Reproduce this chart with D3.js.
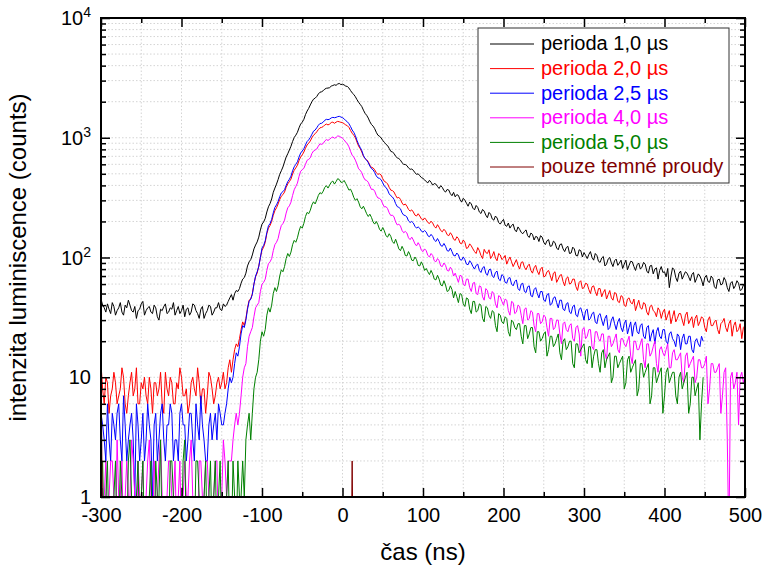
<!DOCTYPE html>
<html><head><meta charset="utf-8">
<script src="https://cdn.jsdelivr.net/npm/d3@7"></script>
<style>body{margin:0;background:#fff}svg{display:block;font-family:"Liberation Sans",Arial,sans-serif}</style>
</head><body><svg id="c" width="768" height="569"></svg>
<script>
// sampling grid of the measurement (ns)
const timeNs = d3.range(-300, 501, 2);

// perioda 1,0 µs
const period10 = [45,40,38,35,41,37,34,42,39,33,36,38,42,35,33,40,38,44,40,36,35,39,31,36,37,41,43,33,36,38,39,35,34,40,38,32,30,37,36,39,41,34,35,38,37,42,33,36,39,34,36,40,32,37,38,33,35,41,40,36,34,31,37,39,31,34,36,40,39,33,35,38,38,42,37,36,41,39,40,43,
46,49,44,50,53,52,55,61,66,68,74,85,92,96,105,118,127,135,148,170,190,198,212,240,265,282,308,350,380,410,448,495,530,570,628,690,735,790,850,930,1005,1050,1110,1210,1300,1350,1425,1560,1670,1760,1880,2000,2100,2140,2210,2320,2400,2420,2470,2550,2590,2600,2620,2700,2730,2770,2740,2810,2840,2780,
2800,2760,2700,2680,2600,2480,2370,2300,2200,2080,1980,1900,1820,1700,1600,1540,1460,1360,1290,1250,1190,1110,1050,1030,995,950,915,880,860,815,770,760,740,700,680,670,650,618,600,598,585,560,545,548,535,510,495,500,482,465,
458,445,430,420,441,425,402,415,410,392,377,398,385,362,352,370,366,341,328,350,321,335,330,305,290,312,301,284,268,290,280,258,250,272,262,240,233,252,244,226,215,238,230,210,205,222,214,196,190,200,208,186,182,194,176,185,190,170,164,180,172,162,158,165,170,152,147,160,156,140,150,148,136,152,148,134,128,138,141,124,125,137,133,120,116,128,130,118,112,121,124,108,109,122,118,104,103,116,114,101,
110,104,98,106,112,100,95,108,104,93,91,99,102,85,88,97,100,90,84,94,97,86,90,95,81,88,95,79,86,93,92,84,78,87,90,80,83,91,88,77,74,85,86,73,80,82,66,78,84,75,76,69,81,56,70,82,79,68,63,74,77,66,71,76,74,69,64,72,75,62,67,73,70,65,58,68,71,63,62,70,67,57,55,65,66,59,60,68,64,56,52,61,63,55,58,64,61,53,54,59,
60];

// perioda 2,0 µs
const period20 = [13,8,6,10,9,5,7,8,11,9,6,7,8,12,10,6,5,7,9,11,7,8,12,6,6,9,8,10,7,6,10,8,5,9,9,7,8,11,6,5,11,8,7,10,9,6,6,9,8,12,10,7,7,8,5,6,9,10,8,7,12,9,6,8,8,5,7,11,10,8,6,7,9,10,8,9,
11,8,9,12,14,11,14,17,19,18,21,25,29,27,31,38,44,45,50,60,69,74,85,100,115,122,134,158,176,185,200,225,246,260,280,305,325,335,352,385,412,430,452,498,535,560,590,645,690,720,760,818,870,900,940,1000,1050,1080,1120,1170,1210,1220,1240,1280,1300,1280,1300,1340,1350,1320,1350,1370,1360,1345,
1340,1310,1280,1260,1220,1150,1090,1050,1000,920,850,810,760,700,670,655,630,590,565,560,540,510,495,500,488,455,432,425,412,385,365,362,352,330,314,318,306,285,274,280,268,252,244,250,240,226,222,232,222,210,205,214,
206,196,192,201,194,182,176,188,179,168,164,172,166,155,152,161,154,142,139,149,144,132,130,140,134,119,121,130,
125,118,112,108,121,114,104,98,117,110,108,116,98,103,112,99,94,108,105,96,
99,104,88,95,101,92,84,90,96,86,80,91,92,83,79,85,88,78,74,82,
86,77,72,80,83,69,70,76,78,71,64,74,76,62,66,71,72,63,58,67,
69,60,61,66,66,57,53,62,64,55,56,61,60,54,50,57,58,52,48,55,
55,47,51,54,45,49,53,46,44,51,50,43,42,48,47,40,39,45,46,42,
41,45,36,40,44,38,37,42,41,35,33,39,40,36,35,32,38,36,31,35,
37,30,33,36,28,32,36,29,31,34,34,30,27,33,35,28,30,32,26,31,
33,27,29,32,31,26,24,30,32,27,27,29,30,25,23,28,29,31,26,24,
28,30,22,27,29,24,25,28,21,26,
27];

// perioda 2,5 µs (ends at 448 ns)
const period25 = [5,4,3,2,6,3,2,5,4,3,5,6,3,2,7,4,2,3,4,5,3,1,6,4,2,3,5,2,3,6,4,3,1,4,5,2,3,5,6,3,2,4,4,6,5,2,3,3,2,5,6,4,4,2,3,5,5,3,2,6,4,3,7,4,3,2,2,4,5,3,4,5,3,6,5,4,
4,5,6,8,10,9,10,13,16,15,18,23,27,26,30,37,43,45,49,60,70,76,84,100,120,126,138,162,184,192,208,236,262,275,294,322,346,355,368,400,430,450,478,530,572,600,630,690,745,775,810,870,930,960,1005,1070,1135,1160,1210,1270,1315,1320,1350,1400,1425,1415,1430,1465,1480,1470,1480,1500,1510,1490,
1470,1440,1390,1360,1310,1240,1160,1110,1040,950,880,830,780,710,670,650,620,580,552,540,512,480,462,458,446,420,394,385,366,340,328,320,306,282,266,262,255,236,226,224,218,202,196,200,194,182,176,180,175,166,163,168,
163,152,149,156,150,140,136,144,136,126,124,131,124,114,113,120,112,104,103,109,105,96,95,101,96,88,87,94,
90,84,80,86,88,78,75,82,84,74,71,79,80,70,68,75,77,66,64,72,
70,62,61,67,68,60,58,63,65,55,53,60,61,52,51,57,58,48,47,54,
56,50,46,52,52,44,43,49,50,40,41,46,47,42,38,44,44,37,36,41,
42,35,34,39,40,33,32,37,38,34,30,36,37,30,31,34,35,29,28,33,
34,30,27,31,33,25,26,30,32,28,25,29,31,26,24,28,30,23,26,29,
22,27,29,24,23,27,28,22,21,26,27,20,23,25,19,24,26,22,21,25,
25,20,19,23,24,21,20,18,23,22,17,21,23,19,19,22,22,17,16,20,
21,19,18,22,
20];

// perioda 4,0 µs
const period40 = [2,1,1,2,0,1,2,2,1,0,3,1,1,2,0,1,2,1,1,3,2,1,0,2,1,1,2,0,1,2,3,1,0,2,1,1,2,3,1,0,0,1,2,2,1,1,2,0,1,2,0,1,2,1,1,2,3,1,1,0,0,2,2,1,1,2,2,1,0,1,1,2,2,0,1,1,3,2,1,2,2,2,
3,4,5,4,5,7,10,12,13,18,22,24,26,32,38,40,42,52,60,62,66,78,89,92,98,114,128,134,144,166,185,192,205,235,260,270,290,330,368,392,418,475,525,540,556,600,648,660,680,740,775,790,805,850,890,880,895,940,965,950,970,1000,1015,990,1005,1035,1030,1010,
990,960,920,890,840,770,715,690,650,600,550,535,510,470,445,440,425,395,370,372,358,330,314,312,302,280,264,266,256,236,224,226,218,198,187,190,183,168,161,165,160,146,141,148,140,130,125,133,126,115,112,118,
114,104,101,108,104,94,92,98,94,85,84,90,86,78,77,83,79,70,
74,68,62,71,70,60,58,66,66,56,52,61,62,50,49,58,57,47,44,55,
53,46,45,52,50,41,38,48,47,43,40,45,44,36,33,43,42,34,35,40,
39,33,28,37,38,30,31,36,35,27,24,34,34,28,29,33,32,26,22,31,
31,25,26,30,30,23,19,28,29,25,24,27,28,21,20,26,27,23,15,25,
26,21,22,25,25,18,17,24,24,21,20,23,23,16,14,22,22,18,19,21,
23,17,16,21,21,19,18,20,22,15,13,20,20,17,17,19,21,14,12,19,
19,15,16,18,20,13,11,17,18,16,15,17,19,12,12,16,17,14,14,15,
16,10,9,15,16,12,13,14,15,9,10,14,14,12,12,13,15,6,8,13,
13,11,11,12,13,5,7,11,12,3,0,10,11,8,9,11,4,10,11,9,
10];

// perioda 5,0 µs (ends at 448 ns)
const period50 = [1,2,0,1,2,0,0,1,1,2,0,0,2,1,1,0,0,2,3,1,0,0,1,2,0,1,2,0,0,1,1,2,0,0,2,1,1,3,0,1,1,0,0,2,2,1,0,0,1,1,0,2,3,0,0,1,1,0,0,2,2,1,0,0,1,2,0,1,2,0,1,2,0,1,2,0,0,1,1,2,0,0,2,1,0,2,1,1,
2,1,3,4,5,3,5,8,10,11,14,20,24,22,25,33,38,35,40,50,56,52,58,70,79,76,84,98,108,102,111,128,139,134,146,166,182,176,193,220,238,232,248,275,292,280,302,330,348,340,358,385,398,380,402,425,435,410,430,455,448,425,
425,440,415,390,365,372,348,318,300,310,290,265,255,268,250,232,220,230,216,198,190,200,188,172,166,178,167,152,148,158,150,136,131,142,130,118,114,124,116,104,103,112,105,95,94,101,96,86,85,92,86,78,
81,76,72,78,73,66,65,71,66,59,58,64,59,52,53,58,54,46,
52,47,42,50,49,41,39,46,45,37,34,43,43,35,36,41,40,31,29,39,
38,33,31,36,35,27,24,34,33,29,28,32,31,24,22,30,29,26,25,28,
28,22,19,27,27,21,23,26,26,18,16,24,24,20,21,23,24,15,17,22,
22,18,19,21,23,16,14,20,21,17,18,20,20,13,12,19,19,16,17,18,
19,14,13,18,18,12,15,17,17,13,11,16,17,12,14,15,16,9,10,15,
15,12,13,14,15,8,9,14,15,11,12,13,14,7,8,13,13,10,11,12,
13,6,7,12,12,9,10,11,12,5,7,11,12,9,10,11,11,7,6,10,
11,8,9,10,11,5,6,10,10,7,8,9,3,6,
10];

// pouze temné proudy (only dark counts: zero except two events)
const darkTimes = [-300,-298,11,12,13,500];
const darkCounts = [15,0,0,2,0,0];

const seriesNames = ["perioda 1,0 µs","perioda 2,0 µs","perioda 2,5 µs","perioda 4,0 µs","perioda 5,0 µs","pouze temné proudy"];
const seriesColors = ["#000000","#ff0000","#0000ff","#ff00ff","#008000","#800000"];

const xMajorTicks = [-300,-200,-100,0,100,200,300,400,500];
const xMinorTicks = [-250,-150,-50,50,150,250,350,450];
const yMajorTicks = [1,10,100,1000,10000];
const yMinorMultipliers = [2,3,4,5,6,7,8,9];

const svg = d3.select("#c");
const L = 101, R = 745, T = 18, B = 497;
const x = d3.scaleLinear().domain([-300, 500]).range([L, R]);
const y = d3.scaleLog().domain([1, 1e4]).range([B, T]);

const yMinorTicks = [];
yMajorTicks.slice(0, -1).forEach(d => yMinorMultipliers.forEach(m => yMinorTicks.push(d * m)));

// grid
const grid = svg.append("g").attr("stroke", "#d4d4d4").attr("stroke-width", 1).attr("stroke-dasharray", "1.5,2");
grid.selectAll("line.v").data(xMajorTicks.concat(xMinorTicks).filter(d => d > -300 && d < 500))
  .join("line").attr("x1", d => x(d)).attr("x2", d => x(d)).attr("y1", T).attr("y2", B);
grid.selectAll("line.h").data(yMinorTicks.concat([10, 100, 1000]))
  .join("line").attr("y1", d => y(d)).attr("y2", d => y(d)).attr("x1", L).attr("x2", R);

// clip
svg.append("defs").append("clipPath").attr("id", "clip")
  .append("rect").attr("x", L).attr("y", T).attr("width", R - L).attr("height", B - T);

const plot = svg.append("g").attr("clip-path", "url(#clip)");
const yv = v => y(v > 0 ? v : 0.4);
const series = [
  {t: timeNs, v: period10},
  {t: timeNs, v: period20},
  {t: timeNs.slice(0, period25.length), v: period25},
  {t: timeNs, v: period40},
  {t: timeNs.slice(0, period50.length), v: period50},
  {t: darkTimes, v: darkCounts}
];
series.forEach((s, k) => {
  const line = d3.line().x((d, i) => x(s.t[i])).y(d => yv(d));
  plot.append("path").datum(s.v).attr("d", line)
    .attr("fill", "none").attr("stroke", seriesColors[k]).attr("stroke-width", 1);
});

// axes
function styleAxis(g) {
  g.select(".domain").remove();
  g.selectAll(".tick line").attr("stroke", "#000").attr("stroke-width", 1.5);
  g.selectAll(".tick text").attr("fill", "#000").attr("font-size", 20).attr("font-family", '"Liberation Sans",Arial,sans-serif');
}
svg.append("g").attr("transform", `translate(0,${B})`)
  .call(d3.axisBottom(x).tickValues(xMajorTicks).tickSize(-9).tickPadding(11).tickFormat(d => String(d)))
  .call(styleAxis);
svg.append("g").attr("transform", `translate(0,${B})`)
  .call(d3.axisBottom(x).tickValues(xMinorTicks).tickSize(-5).tickFormat("")).call(styleAxis);
svg.append("g").attr("transform", `translate(0,${T})`)
  .call(d3.axisTop(x).tickValues(xMajorTicks).tickSize(-9).tickFormat("")).call(styleAxis);
svg.append("g").attr("transform", `translate(0,${T})`)
  .call(d3.axisTop(x).tickValues(xMinorTicks).tickSize(-5).tickFormat("")).call(styleAxis);
svg.append("g").attr("transform", `translate(${L},0)`)
  .call(d3.axisLeft(y).tickValues(yMajorTicks).tickSize(-9).tickFormat("")).call(styleAxis);
svg.append("g").attr("transform", `translate(${L},0)`)
  .call(d3.axisLeft(y).tickValues(yMinorTicks).tickSize(-5).tickFormat("")).call(styleAxis);
svg.append("g").attr("transform", `translate(${R},0)`)
  .call(d3.axisRight(y).tickValues(yMajorTicks).tickSize(-9).tickFormat("")).call(styleAxis);
svg.append("g").attr("transform", `translate(${R},0)`)
  .call(d3.axisRight(y).tickValues(yMinorTicks).tickSize(-5).tickFormat("")).call(styleAxis);

// y labels with superscripts
const ylab = svg.append("g").attr("font-size", 20).attr("fill", "#000").attr("text-anchor", "end");
yMajorTicks.forEach(d => {
  const t = ylab.append("text").attr("x", L - 10).attr("y", y(d)).attr("dy", "0.35em");
  if (d < 100) { t.text(String(d)); }
  else {
    t.append("tspan").text("10");
    t.append("tspan").attr("font-size", 14).attr("dy", -8).text(String(Math.round(Math.log10(d))));
  }
});

// frame
svg.append("rect").attr("x", L).attr("y", T).attr("width", R - L).attr("height", B - T)
  .attr("fill", "none").attr("stroke", "#000").attr("stroke-width", 2);

// titles
svg.append("text").attr("x", (L + R) / 2).attr("y", 560).attr("text-anchor", "middle")
  .attr("font-size", 24).text("čas (ns)");
svg.append("text").attr("transform", `translate(26,${(T + B) / 2}) rotate(-90)`).attr("text-anchor", "middle")
  .attr("font-size", 24).text("intenzita luminiscence (counts)");

// legend
const lg = svg.append("g");
lg.append("rect").attr("x", 478).attr("y", 28).attr("width", 251).attr("height", 155)
  .attr("fill", "#fff").attr("stroke", "#333").attr("stroke-width", 1);
seriesNames.forEach((n, k) => {
  const cy = 44 + k * 24.6;
  lg.append("line").attr("x1", 490).attr("x2", 534).attr("y1", cy).attr("y2", cy)
    .attr("stroke", seriesColors[k]).attr("stroke-width", 1);
  lg.append("text").attr("x", 541).attr("y", cy).attr("dy", "0.32em").attr("font-size", 20)
    .attr("fill", seriesColors[k]).text(n);
});
</script></body></html>
